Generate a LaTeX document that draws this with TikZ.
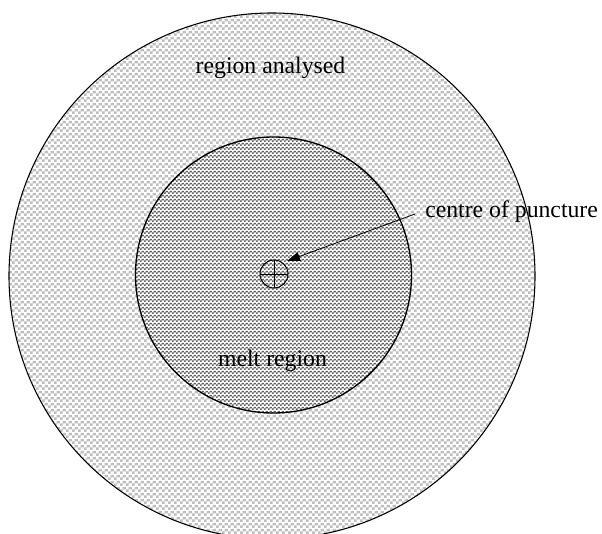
\documentclass[tikz,border=0pt]{standalone}
\usepackage{fontspec}
\setmainfont{Liberation Serif}
\usetikzlibrary{arrows.meta,patterns}
\definecolor{chklight}{HTML}{BEBEBE}
\definecolor{chkdark}{HTML}{606060}
\pgfdeclarepatterninherentlycolored{outerchk}{\pgfpointorigin}{\pgfpoint{4.5pt}{4.5pt}}{\pgfpoint{4.5pt}{4.5pt}}{%
  \pgfsetfillcolor{chklight}%
  \pgfpathrectangle{\pgfpointorigin}{\pgfpoint{2.25pt}{2.25pt}}%
  \pgfpathrectangle{\pgfpoint{2.25pt}{2.25pt}}{\pgfpoint{2.25pt}{2.25pt}}%
  \pgfusepath{fill}}
\pgfdeclarepatterninherentlycolored{innerchk}{\pgfpointorigin}{\pgfpoint{3pt}{3pt}}{\pgfpoint{3pt}{3pt}}{%
  \pgfsetfillcolor{chkdark}%
  \pgfpathrectangle{\pgfpointorigin}{\pgfpoint{1.5pt}{1.5pt}}%
  \pgfpathrectangle{\pgfpoint{1.5pt}{1.5pt}}{\pgfpoint{1.5pt}{1.5pt}}%
  \pgfusepath{fill}}
\begin{document}
\begin{tikzpicture}[x=0.75pt,y=-0.75pt,
  lbl/.style={font=\fontsize{17.8}{20}\selectfont, inner sep=0pt, anchor=base},
  ring/.style={circle, draw=black, inner sep=0pt, outer sep=0pt},
]
\fill[white] (0,0) rectangle (602,534);
\useasboundingbox (0,0) rectangle (602,534);
\clip (0,0) rectangle (602,534);
\node[ring, line width=0.8pt, minimum size=394.5pt, pattern=outerchk] (outer) at (272,276) {};
\node[ring, line width=1pt, minimum size=207pt, preaction={fill=white}, pattern=innerchk] (inner) at (273.5,275) {};
\node[ring, line width=0.75pt, minimum size=21pt] (punct) at (274,274) {};
\draw[line width=0.75pt] (punct.north) -- (punct.south);
\draw[line width=0.75pt] (punct.west) -- (punct.east);
\node[lbl] (ra) at (270.5,73.3) {region analysed};
\node[lbl] (mr) at (272.5,366) {melt region};
\node[lbl, anchor=base west] (cp) at (425,218) {centre of puncture};
\coordinate (tail) at (415,214);
\coordinate (tip) at (287,261);
\draw[line width=0.6pt, -{Triangle[length=9.75pt,width=6.75pt]}] (tail) -- (tip);
\end{tikzpicture}
\end{document}
